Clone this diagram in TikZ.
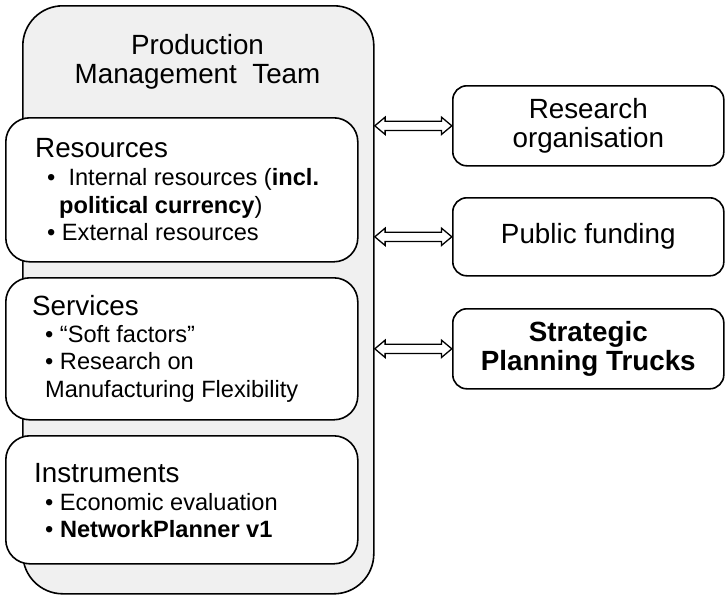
\documentclass[tikz,border=0pt]{standalone}
\usepackage{fontspec}
\setmainfont{Liberation Sans}
\usetikzlibrary{shapes.arrows}
\newcommand\hdsize{\fontsize{27.8}{30}\selectfont}
\newcommand\bulsize{\fontsize{23.6}{28}\selectfont}
\tikzset{
  outline/.style={draw=black, line width=1.6pt},
  teambox/.style={outline, fill=black!6, rounded corners=40pt, anchor=north west, inner sep=0pt},
  groupbox/.style={outline, fill=white, rounded corners=24pt, anchor=north west, inner sep=0pt},
  partner/.style={outline, fill=white, rounded corners=14pt, anchor=north west, inner sep=0pt,
                  align=center, font=\hdsize},
  head/.style={anchor=base west, inner sep=0pt, font=\hdsize},
  bul/.style={anchor=base west, inner sep=0pt, font=\bulsize},
  title/.style={anchor=base, inner sep=0pt, font=\hdsize},
  twoway/.style={double arrow, draw=black, fill=white, line width=1.3pt,
                 inner xsep=0pt, inner ysep=4pt, minimum height=77pt,
                 double arrow head extend=4pt, double arrow tip angle=80}
}
\begin{document}
\begin{tikzpicture}[x=1pt, y=-1pt]
  \useasboundingbox (0,0) rectangle (725,598);

  % outer team container
  \node[teambox, minimum width=351pt, minimum height=588pt] (team) at (22,5) {};
  \node[title] (t1) at (197.5,54) {Production};
  \node[title] (t2) at (197.5,83) {Management\ \ Team};

  % resources
  \node[groupbox, minimum width=352pt, minimum height=144pt] (res) at (5,117) {};
  \node[head] (resh) at (35,157) {Resources};
  \node[bul] (res1) at (47,185) {\textbullet\ \ Internal resources (\textbf{incl.}};
  \node[bul] (res2) at (59,213) {\textbf{political currency})};
  \node[bul] (res3) at (47,240) {\textbullet\ External resources};

  % services
  \node[groupbox, minimum width=352pt, minimum height=142pt] (srv) at (5,277) {};
  \node[head] (srvh) at (32,315) {Services};
  \node[bul] (srv1) at (45,342) {\textbullet\ “Soft factors”};
  \node[bul] (srv2) at (45,369) {\textbullet\ Research on};
  \node[bul] (srv3) at (45,397) {Manufacturing Flexibility};

  % instruments
  \node[groupbox, minimum width=352pt, minimum height=128pt] (ins) at (5,435) {};
  \node[head] (insh) at (34,482) {Instruments};
  \node[bul] (ins1) at (45,510) {\textbullet\ Economic evaluation};
  \node[bul] (ins2) at (45,537) {\textbullet\ \textbf{NetworkPlanner v1}};

  % partners
  \node[partner, minimum width=271pt, minimum height=80pt] (ro) at (452,85)
       {Research\\[-1pt]organisation};
  \node[partner, minimum width=271pt, minimum height=78pt] (pf) at (452,197)
       {Public funding};
  \node[partner, minimum width=271pt, minimum height=80pt, font=\hdsize\bfseries] (spt) at (452,308)
       {Strategic\\[-1pt]Planning Trucks};

  % two-way links between team and partners
  \path (team.east |- ro.west) -- (ro.west) node[twoway, midway] (a1) {};
  \path (team.east |- pf.west) -- (pf.west) node[twoway, midway] (a2) {};
  \path (team.east |- spt.west) -- (spt.west) node[twoway, midway] (a3) {};
\end{tikzpicture}
\end{document}
